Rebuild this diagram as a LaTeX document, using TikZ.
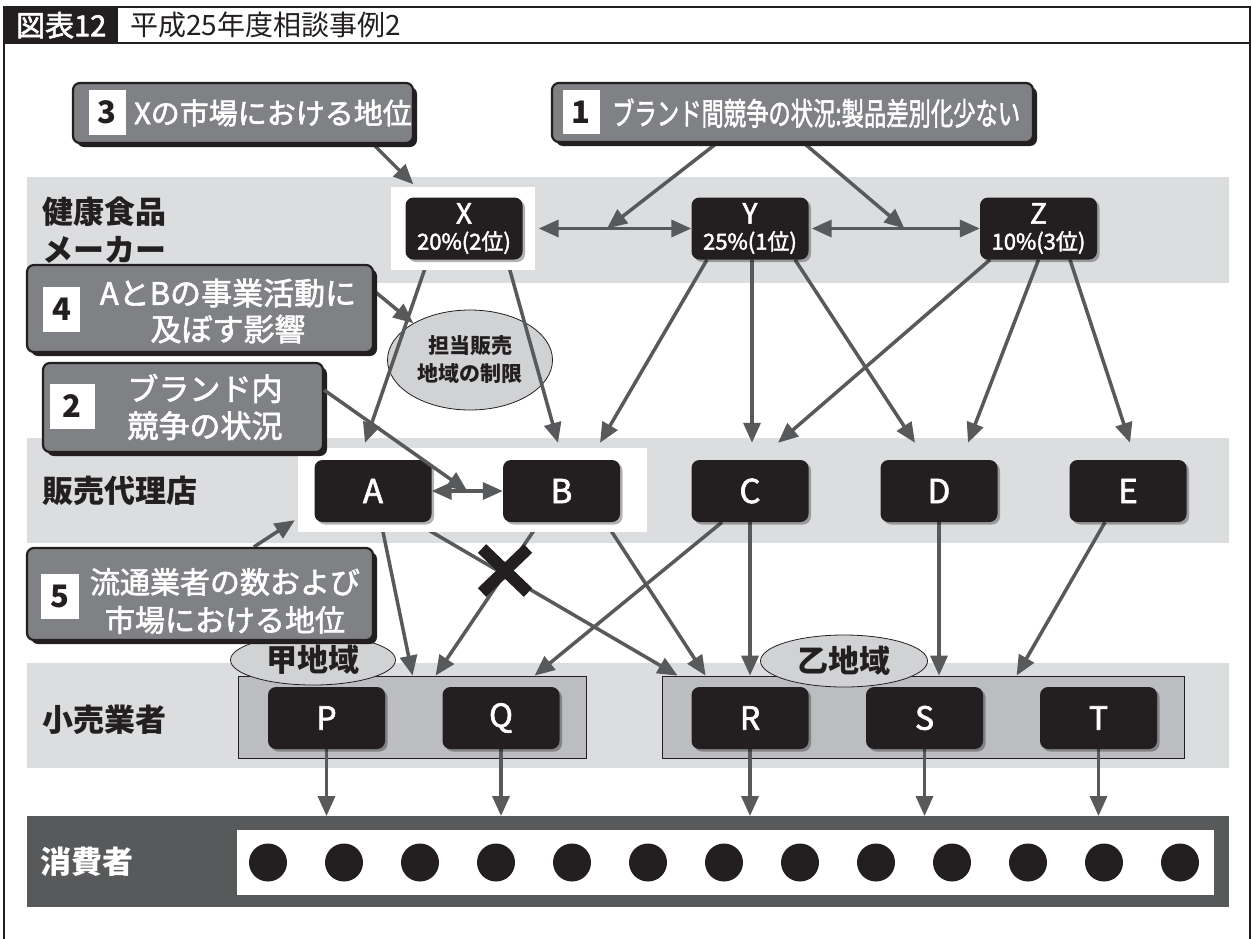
\documentclass[tikz,border=0pt]{standalone}
\usepackage{fontspec}
\setmainfont{Noto Sans CJK JP}
\newfontfamily\medf{Noto Sans CJK JP}[FakeBold=2]
\usetikzlibrary{arrows.meta,shapes.geometric,shadows,calc}
\definecolor{band}{HTML}{DCDDDF}
\definecolor{ink}{HTML}{231F20}
\definecolor{ag}{HTML}{58595B}
\definecolor{lbl}{HTML}{808184}
\definecolor{grp}{HTML}{BCBDC0}
\definecolor{ellg}{HTML}{D1D2D4}
\newcommand{\fsz}[1]{\fontsize{#1}{#1}\selectfont}
\pgfdeclarelayer{bands}
\pgfdeclarelayer{lines}
\pgfdeclarelayer{hl}
\pgfsetlayers{bands,lines,hl,main}
\begin{document}
\begin{tikzpicture}[x=1pt,y=-1pt,
  blk/.style={fill=ink, rounded corners=8pt, text=white, inner sep=0pt, minimum width=117pt, minimum height=62pt, drop shadow={shadow xshift=2.5pt,shadow yshift=-2.5pt,fill=black,opacity=0.3}},
  lbox/.style={fill=lbl, draw=ink, line width=2.2pt, rounded corners=7pt, inner sep=0pt, drop shadow={shadow xshift=4pt,shadow yshift=-4pt,fill=ink,opacity=1}},
  numbox/.style={fill=white, inner sep=0pt, text=ink, font=\fsz{31}\bfseries},
  ltxt/.style={text=white, inner sep=0pt, align=center},
  rowlbl/.style={anchor=west, inner sep=0pt, font=\fsz{31}\bfseries, text=ink},
  conn/.style={draw=ag, line width=3.5pt, -{Triangle[length=20pt,width=17pt]}},
  dconn/.style={draw=ag, line width=3.5pt, {Triangle[length=20pt,width=17pt]}-{Triangle[length=20pt,width=17pt]}},
  ovl/.style={ellipse, fill=ellg, draw=ink, line width=0.8pt, inner sep=0pt},
  grpbox/.style={fill=grp, draw=ink, line width=0.8pt, inner sep=0pt, minimum height=82pt},
  hlbox/.style={fill=white, inner sep=0pt}
]
\useasboundingbox (0,0) rectangle (1252,938);

% ---------- background layer ----------
\begin{pgfonlayer}{bands}
\fill[white] (0,0) rectangle (1252,938);
\fill[band] (27,177) rectangle (1229,283);
\fill[band] (27,438) rectangle (1229,543);
\fill[band] (27,663) rectangle (1229,768);
\fill[ag] (27,816) rectangle (1229,907);
\fill[white] (237,830) rectangle (1214,895);
\foreach \i in {0,...,12} \fill[ink] (268+76*\i,862.5) circle[radius=19pt];
\node[grpbox, minimum width=348pt] (g1) at (412,717) {};
\node[grpbox, minimum width=522pt] (g2) at (923,717) {};
\node[ovl, minimum width=165pt, minimum height=100pt, align=center, font=\fontsize{21}{28}\selectfont\bfseries, text=ink] (er) at (470,360) {担当販売\\地域の制限};
\end{pgfonlayer}
\coordinate (cons) at (0,816);

% ---------- frame and title ----------
\draw[ink, line width=2pt] (4,7) rectangle (1250,43);
\draw[ink, line width=2pt] (4,43) -- (4,940) (1250,43) -- (1250,940);
\node[fill=ink, minimum width=114pt, minimum height=36pt, inner sep=0pt, anchor=north west, text=white, font=\fsz{29}\medf] (ttl) at (4,7) {図表12};
\node[anchor=west, inner sep=0pt, font=\fsz{28}, text=ink] (ttltxt) at (130,25) {平成25年度相談事例2};

% ---------- row labels ----------
\node[rowlbl] (lm1) at (42,212) {健康食品};
\node[rowlbl] (lm2) at (42,250) {メーカー};
\node[rowlbl] (ld) at (42,491) {販売代理店};
\node[rowlbl] (lr) at (42,720) {小売業者};
\node[rowlbl, text=white] (lc) at (40,862) {消費者};

% ---------- highlight rectangles ----------
\begin{pgfonlayer}{hl}
\node[hlbox, minimum width=144pt, minimum height=83pt] (xw) at (463,228.5) {};
\node[hlbox, minimum width=349pt, minimum height=84pt] (abw) at (472.5,490) {};
\end{pgfonlayer}

% ---------- manufacturer nodes ----------
\node[blk, align=center, font=\fontsize{22}{26}\selectfont\medf] (X) at (464,228.5) {{\fontsize{28}{26}\selectfont X}\\20\%(2位)};
\node[blk, align=center, font=\fontsize{22}{26}\selectfont\medf] (Y) at (750,228.5) {{\fontsize{28}{26}\selectfont Y}\\25\%(1位)};
\node[blk, align=center, font=\fontsize{22}{26}\selectfont\medf] (Z) at (1038.5,228.5) {{\fontsize{28}{26}\selectfont Z}\\10\%(3位)};

% ---------- distributor nodes ----------
\node[blk, font=\fsz{33}\medf] (A) at (373,491) {A};
\node[blk, font=\fsz{33}\medf] (B) at (561.5,491) {B};
\node[blk, font=\fsz{33}\medf] (C) at (750,491) {C};
\node[blk, font=\fsz{33}\medf] (D) at (939,491) {D};
\node[blk, font=\fsz{33}\medf] (E) at (1128,491) {E};

% ---------- retail nodes ----------
\node[blk, font=\fsz{32}\medf] (P) at (326.5,718) {P};
\node[blk, font=\fsz{32}\medf] (Q) at (501,718) {Q};
\node[blk, font=\fsz{32}\medf] (R) at (750,718) {R};
\node[blk, font=\fsz{32}\medf] (S) at (924.5,718) {S};
\node[blk, font=\fsz{32}\medf] (T) at (1098.5,718) {T};

% ---------- region ovals ----------
\node[ovl, minimum width=165pt, minimum height=50pt, font=\fsz{31}\bfseries, text=ink] (e1) at (313,660) {甲地域};
\node[ovl, minimum width=167pt, minimum height=52pt, font=\fsz{31}\bfseries, text=ink] (e2) at (844,661) {乙地域};

% ---------- label boxes ----------
\node[lbox, minimum width=340pt, minimum height=60pt] (lb3) at (243,113) {};
\node[numbox, minimum width=37pt, minimum height=45pt] (n3) at (107,112) {3};
\node[ltxt, anchor=west, font=\fsz{29}\medf] (t3) at (134,113) {Xの市場における地位};

\node[lbox, minimum width=481pt, minimum height=59pt] (lb1) at (792.5,112.5) {};
\node[numbox, minimum width=37pt, minimum height=44pt] (n1) at (581,112) {1};
\node[ltxt, anchor=west, font=\fsz{31}\medf] (t1) at (612,113) {\scalebox{0.72}[1]{ブランド間競争の状況:製品差別化少ない}};

\node[lbox, minimum width=346pt, minimum height=87pt] (lb4) at (200,308.5) {};
\node[numbox, minimum width=37pt, minimum height=45pt] (n4) at (61.5,309.5) {4};
\node[ltxt, font=\fontsize{31}{36}\selectfont\medf] (t4) at (228,311) {AとBの事業活動に\\及ぼす影響};

\node[lbox, minimum width=280pt, minimum height=89pt] (lb2) at (183,407.5) {};
\node[numbox, minimum width=45pt, minimum height=45pt] (n2) at (72,406) {2};
\node[ltxt, font=\fontsize{31}{37}\selectfont\medf] (t2) at (205,407) {ブランド内\\競争の状況};

\node[lbox, minimum width=346pt, minimum height=92pt] (lb5) at (200,594) {};
\node[numbox, minimum width=38pt, minimum height=45pt] (n5) at (60,596) {5};
\node[ltxt, font=\fontsize{30}{38}\selectfont\medf] (t5) at (225,601) {流通業者の数および\\市場における地位};

% ---------- connectors under highlights ----------
\begin{pgfonlayer}{lines}
\draw[conn] ($(lb3.south east)+(-41,0)$) -- ($(X.north west)+(8,-13)$);
\draw[conn] ($(lb1.south west)+(166,0)$) -- ($(X.east)!0.5!(Y.west)$);
\draw[conn] ($(lb1.south west)+(253,0)$) -- ($(Y.east)!0.56!(Z.west)$);
\draw[dconn] ($(X.east)+(16,0)$) -- (Y.west);
\draw[dconn] ($(Y.east)+(3,0)$) -- (Z.west);
% manufacturers -> distributors
\draw[conn] ($(X.south)+(-36,0)$) -- ($(A.north)+(-8,-17)$);
\draw[conn] ($(X.south)+(43,0)$) -- ($(B.north)+(-3.5,-17)$);
\draw[conn] ($(Y.south)+(-43,0)$) -- ($(B.north)+(38.5,-17)$);
\draw[conn] ($(Y.south)+(2,0)$) -- ($(C.north)+(2,-17)$);
\draw[conn] ($(Y.south)+(45,0)$) -- ($(D.north)+(-24,-17)$);
\draw[conn] ($(Z.south)+(-48.5,0)$) -- ($(C.north)+(28,-17)$);
\draw[conn] (Z.south) -- ($(D.north)+(29,-17)$);
\draw[conn] ($(Z.south)+(31.5,0)$) -- ($(E.north)+(2,-17)$);
% distributors -> retailers
\draw[conn] ($(A.south)+(8,0)$) -- ($(g1.north west)+(175,0)$);
\draw[conn] ($(B.south)+(-22,0)$) -- ($(g1.north west)+(198,0)$);
\draw[conn] ($(A.south)+(42,0)$) -- ($(g2.north west)+(16,0)$);
\draw[conn] ($(B.south)+(44,0)$) -- ($(g2.north west)+(44,0)$);
\draw[conn] ($(C.south)+(-28,0)$) -- ($(g1.north west)+(297,0)$);
\draw[conn] (C.south) -- (C.south |- g2.north);
\draw[conn] (D.south) -- (D.south |- g2.north);
\draw[conn] ($(E.south)+(-23,0)$) -- ($(g2.north west)+(355,0)$);
% retailers -> consumers
\foreach \n in {P,Q,R,S,T} \draw[conn] (\n.south) -- (\n.south |- cons);
% label arrows
\draw[conn] ($(lb4.north east)+(0,27)$) -- (er.147);
\draw[conn] ($(lb5.north west)+(228,0)$) -- ($(abw.south west)+(-3,-12)$);
\end{pgfonlayer}

% ---------- connectors over highlights ----------
\draw[dconn] (A.east) -- (B.west);
\draw[conn] ($(lb2.east)+(0,-17.5)$) -- ($(A.east)!0.5!(B.west)$);

% ---------- prohibition mark ----------
\coordinate (xm) at (505,570.5);
\draw[ink, line width=12pt] ($(xm)+(-23,-22)$) -- ($(xm)+(23,22)$) ($(xm)+(-23,22)$) -- ($(xm)+(23,-22)$);
\end{tikzpicture}
\end{document}
